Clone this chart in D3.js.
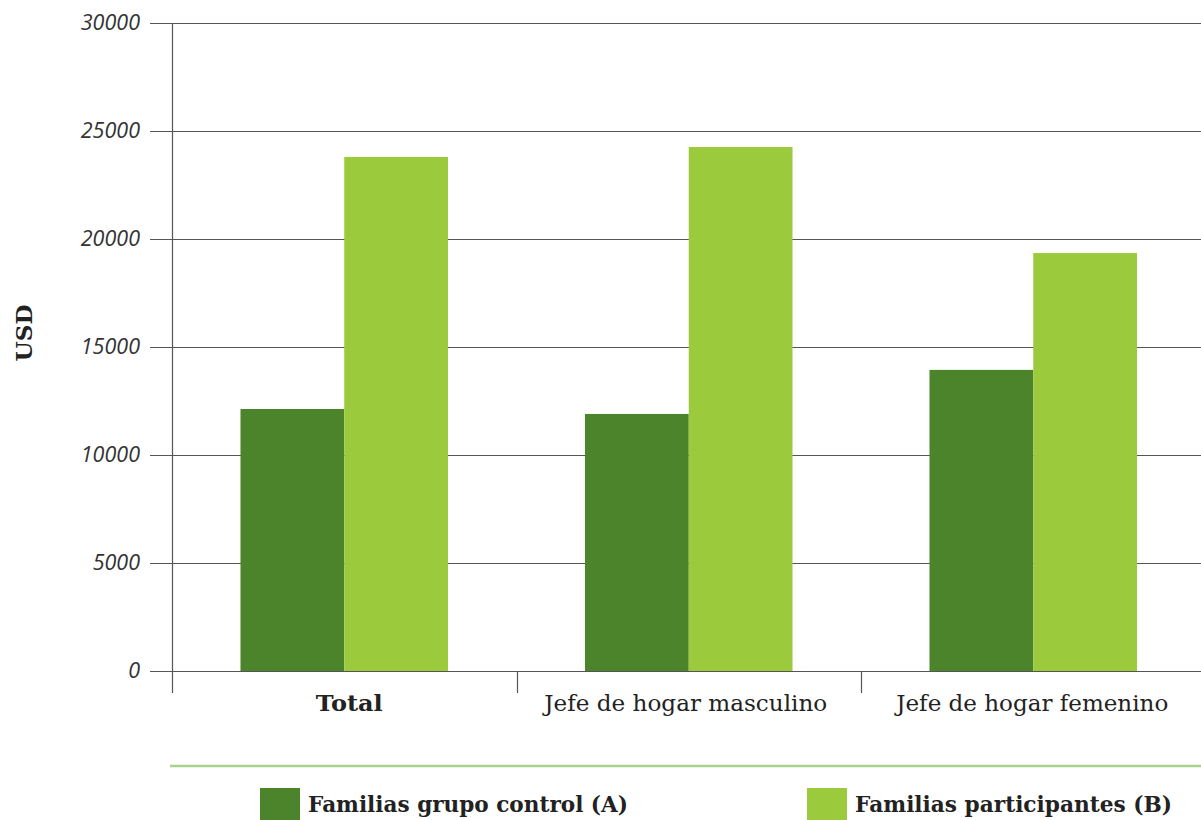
<!DOCTYPE html>
<html><head><meta charset="utf-8">
<script src="https://cdn.jsdelivr.net/npm/d3@7"></script>
<style>body{margin:0;background:#fff}svg{display:block}</style>
</head><body>
<svg id="c" width="1201" height="820"></svg>
<script>
const categories = ["Total", "Jefe de hogar masculino", "Jefe de hogar femenino"];
const seriesNames = ["Familias grupo control (A)", "Familias participantes (B)"];
const controlA = [12130, 11900, 13940];
const participantsB = [23800, 24260, 19350];
const yTicks = [0, 5000, 10000, 15000, 20000, 25000, 30000];
const colors = ["#4b842a", "#9bca3c"];

(function(){
const svg = d3.select("#c");
const mLeft = 172, mTop = 23, mBottom = 671, step = 344.5;
const x = d3.scaleBand().domain(categories).range([mLeft, mLeft + step*3]).paddingInner(0).paddingOuter(0);
const x1 = d3.scaleBand().domain([0,1]).range([0, step]).paddingInner(0).paddingOuter(0.66);
const y = d3.scaleLinear().domain([0, 30000]).range([mBottom, mTop]);

// gridlines
svg.append("g").selectAll("line").data(yTicks).join("line")
  .attr("x1", 150).attr("x2", 1201)
  .attr("y1", d => Math.round(y(d)) + 0.5).attr("y2", d => Math.round(y(d)) + 0.5)
  .attr("stroke", "#555").attr("stroke-width", 1);

// y tick labels
svg.append("g").selectAll("text").data(yTicks).join("text")
  .attr("x", 140).attr("y", d => y(d) + 7)
  .attr("text-anchor", "end")
  .attr("font-family", "Open Sans, sans-serif").attr("font-style", "italic")
  .attr("font-size", 21.5).attr("fill", "#333")
  .text(d => d);

// bars
const data = categories.map((c, i) => ({c, v: [controlA[i], participantsB[i]]}));
const g = svg.append("g");
data.forEach(d => {
  d.v.forEach((v, j) => {
    g.append("rect")
      .attr("x", x(d.c) + x1(j)).attr("width", x1.bandwidth())
      .attr("y", y(v)).attr("height", y(0) - y(v))
      .attr("fill", colors[j]);
  });
});

// y axis line
svg.append("line").attr("x1", mLeft + 0.5).attr("x2", mLeft + 0.5).attr("y1", mTop).attr("y2", 693)
  .attr("stroke", "#555").attr("stroke-width", 1.2);
// category separators
svg.append("g").selectAll("line").data(categories.slice(1)).join("line")
  .attr("x1", d => Math.round(x(d)) + 0.5).attr("x2", d => Math.round(x(d)) + 0.5)
  .attr("y1", mBottom).attr("y2", 693).attr("stroke", "#555").attr("stroke-width", 1.2);

// category labels
const labelDx = [5, -3, -1];
const labelLen = [67, 283, 272];
svg.append("g").selectAll("text").data(categories).join("text")
  .attr("x", (d, i) => x(d) + x.bandwidth()/2 + labelDx[i]).attr("y", 711)
  .attr("text-anchor", "middle")
  .attr("font-family", "DejaVu Serif, serif")
  .attr("font-weight", (d, i) => i === 0 ? "bold" : "normal")
  .attr("font-size", 22).attr("fill", "#222")
  .attr("textLength", (d, i) => labelLen[i])
  .attr("lengthAdjust", "spacingAndGlyphs")
  .text(d => d);

// y axis title
svg.append("text").attr("transform", "translate(32,333) rotate(-90)")
  .attr("text-anchor", "middle").attr("font-family", "DejaVu Serif, serif")
  .attr("font-weight", "bold").attr("font-size", 23).attr("fill", "#222")
  .attr("textLength", 57).attr("lengthAdjust", "spacingAndGlyphs").text("USD");

// legend separator
svg.append("line").attr("x1", 170).attr("x2", 1201).attr("y1", 766).attr("y2", 766)
  .attr("stroke", "#a9d18e").attr("stroke-width", 2.5);

// legend
const legX = [260, 807];
const leg = svg.append("g").selectAll("g").data(seriesNames).join("g")
  .attr("transform", (d, i) => `translate(${legX[i]},788)`);
leg.append("rect").attr("width", 40).attr("height", 32).attr("fill", (d, i) => colors[i]);
leg.append("text").attr("x", 48).attr("y", 24)
  .attr("font-family", "DejaVu Serif, serif").attr("font-weight", "bold")
  .attr("font-size", 22).attr("fill", "#222")
  .attr("textLength", (d, i) => i === 0 ? 320 : 317)
  .attr("lengthAdjust", "spacingAndGlyphs")
  .text(d => d);
})();
</script>
</body></html>
